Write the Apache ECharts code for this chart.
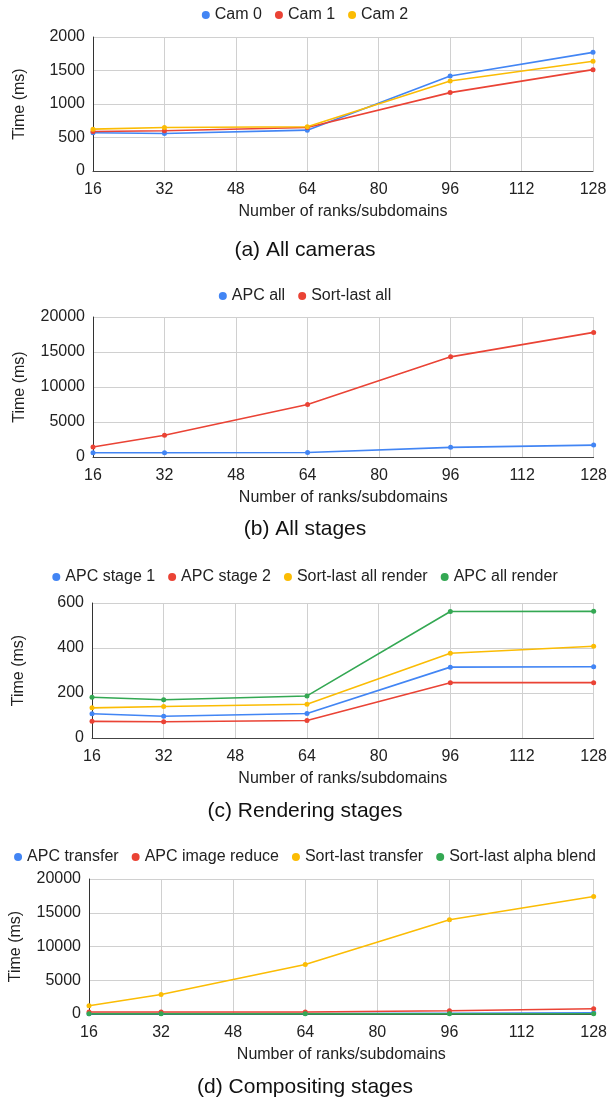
<!DOCTYPE html>
<html>
<head>
<meta charset="utf-8">
<style>
  html, body { margin: 0; padding: 0; background: #fff; }
  #main { width: 610px; height: 1104px; }
</style>
<script src="https://cdn.jsdelivr.net/npm/echarts@6/dist/echarts.min.js"></script>
</head>
<body>
<div id="main"></div>
<script>
// x categories (number of ranks)
const ranks = [16, 32, 64, 96, 128]
const xTicks = [16, 32, 48, 64, 80, 96, 112, 128]

// (a) All cameras
const cam0 = [570, 560, 610, 1418, 1771]
const cam1 = [590, 600, 650, 1170, 1513]
const cam2 = [625, 650, 660, 1344, 1637]

// (b) All stages
const apcAll = [600, 600, 650, 1380, 1700]
const sortLastAll = [1435, 3110, 7512, 14306, 17800]

// (c) Rendering stages
const apcStage1 = [108, 97, 109, 315, 317]
const apcStage2 = [74, 72, 78, 246, 246]
const sortLastRender = [134, 140, 150, 377, 408]
const apcAllRender = [181, 170, 187, 562, 563]

// (d) Compositing stages
const apcTransfer = [50, 60, 70, 120, 170]
const apcImageReduce = [295, 295, 295, 490, 786]
const sortLastTransfer = [1228, 2900, 7322, 13956, 17396]
const sortLastBlend = [20, 20, 20, 25, 30]

const BLUE = '#4285f4'
const RED = '#ea4335'
const YELLOW = '#fbbc04'
const GREEN = '#34a853'
const FONT = "'Liberation Sans', Arial, sans-serif"

// layout of each panel
const panels = [
  { top: 37, height: 134, left: 93, right: 17, legendTop: 7, capTop: 240, caption: '(a) All cameras', max: 2000, interval: 500 },
  { top: 317, height: 140, left: 93, right: 13, legendTop: 288, capTop: 519, caption: '(b) All stages', max: 20000, interval: 5000 },
  { top: 603, height: 135, left: 92, right: 13, legendTop: 569, capTop: 801, caption: '(c) Rendering stages', max: 600, interval: 200 },
  { top: 879, height: 135, left: 89, right: 16, legendTop: 849, capTop: 1077, caption: '(d) Compositing stages', max: 20000, interval: 5000 }
]

const seriesDefs = [
  [['Cam 0', cam0, BLUE], ['Cam 1', cam1, RED], ['Cam 2', cam2, YELLOW]],
  [['APC all', apcAll, BLUE], ['Sort-last all', sortLastAll, RED]],
  [['APC stage 1', apcStage1, BLUE], ['APC stage 2', apcStage2, RED], ['Sort-last all render', sortLastRender, YELLOW], ['APC all render', apcAllRender, GREEN]],
  [['APC transfer', apcTransfer, BLUE], ['APC image reduce', apcImageReduce, RED], ['Sort-last transfer', sortLastTransfer, YELLOW], ['Sort-last alpha blend', sortLastBlend, GREEN]]
]

const chart = echarts.init(document.getElementById('main'))

const grid = []
const xAxis = []
const yAxis = []
const legend = []
const title = []
const series = []

panels.forEach((p, i) => {
  grid.push({ top: p.top, height: p.height, left: p.left, right: p.right })
  xAxis.push({
    type: 'value',
    gridIndex: i,
    min: xTicks[0],
    max: xTicks[xTicks.length - 1],
    interval: 16,
    name: 'Number of ranks/subdomains',
    nameLocation: 'middle',
    nameGap: 33,
    nameTextStyle: { fontSize: 16, color: '#222', fontFamily: FONT },
    axisLine: { show: true, lineStyle: { color: '#444', width: 1 } },
    axisTick: { show: false },
    axisLabel: { fontSize: 16, color: '#222', margin: 11, fontFamily: FONT, formatter: v => String(v) },
    splitLine: { show: true, lineStyle: { color: '#d0d0d0', width: 1 } }
  })
  yAxis.push({
    type: 'value',
    gridIndex: i,
    min: 0,
    max: p.max,
    interval: p.interval,
    name: 'Time (ms)',
    nameLocation: 'middle',
    nameGap: 65,
    nameTextStyle: { fontSize: 16, color: '#222', fontFamily: FONT },
    axisLine: { show: true, lineStyle: { color: '#333', width: 1 } },
    axisTick: { show: false },
    axisLabel: { fontSize: 16, color: '#222', margin: 8, fontFamily: FONT, formatter: v => String(v) },
    splitLine: { show: true, lineStyle: { color: '#d0d0d0', width: 1 } }
  })
  legend.push({
    top: p.legendTop,
    left: 'center',
    padding: 0,
    icon: 'circle',
    itemWidth: 8,
    itemHeight: 8,
    itemGap: 13,
    data: seriesDefs[i].map(s => s[0]),
    textStyle: { fontSize: 16, color: '#222', fontFamily: FONT }
  })
  title.push({
    text: p.caption,
    left: 'center',
    top: p.capTop,
    padding: 0,
    textStyle: { fontSize: 21, fontWeight: 'normal', color: '#111', fontFamily: FONT }
  })
  seriesDefs[i].forEach(s => {
    series.push({
      name: s[0],
      type: 'line',
      xAxisIndex: i,
      yAxisIndex: i,
      data: ranks.map((r, k) => [r, s[1][k]]),
      symbol: 'circle',
      symbolSize: 5,
      showSymbol: true,
      color: s[2],
      lineStyle: { width: 1.6, color: s[2] },
      itemStyle: { color: s[2] },
      animation: false
    })
  })
})

chart.setOption({
  backgroundColor: '#fff',
  animation: false,
  textStyle: { fontFamily: FONT },
  grid,
  xAxis,
  yAxis,
  legend,
  title,
  series
})
</script>
</body>
</html>
